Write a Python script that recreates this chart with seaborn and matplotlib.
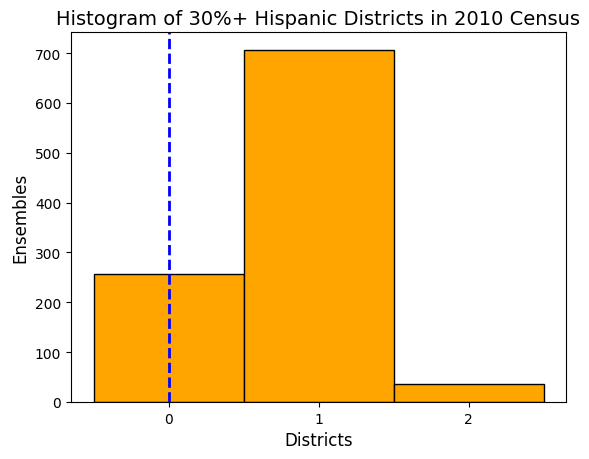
import matplotlib
matplotlib.use("Agg")
import matplotlib.pyplot as plt
import seaborn as sns

# --- DATA ---
districts = [0, 1, 2]
ensembles = [257, 707, 36]
enacted = 0

fig, ax = plt.subplots(figsize=(5.89, 4.6), dpi=100)
fig.subplots_adjust(left=71 / 589, right=566 / 589, top=1 - 33 / 460, bottom=1 - 403 / 460)

sns.histplot(x=districts, weights=ensembles, discrete=True, color="orange",
             edgecolor="black", alpha=1, ax=ax)
ax.axvline(enacted, color="blue", linestyle="--", linewidth=2)

ax.set_xticks(districts)
ax.set_title("Histogram of 30%+ Hispanic Districts in 2010 Census", fontsize=14)
ax.set_xlabel("Districts", fontsize=12)
ax.set_ylabel("Ensembles", fontsize=12)

fig.savefig("out.png", dpi=100)
